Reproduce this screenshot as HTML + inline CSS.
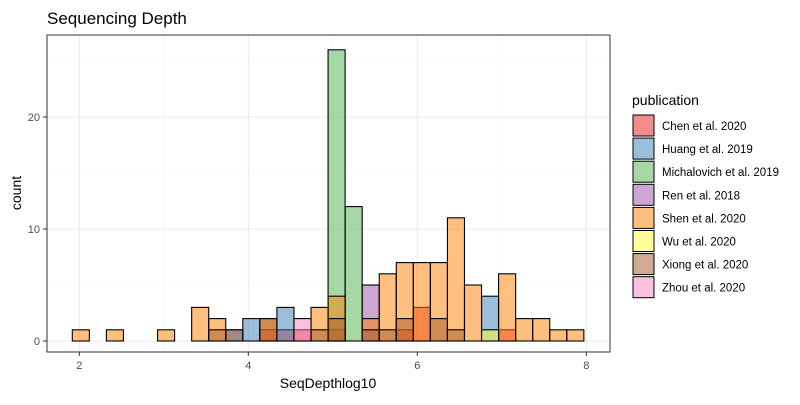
<!DOCTYPE html>
<html><head><meta charset="utf-8"><style>
body{margin:0;background:#fff;font-family:"Liberation Sans",Arial,sans-serif}
svg text{font-family:"Liberation Sans",Arial,sans-serif}
</style></head><body>
<svg id="chart" width="800" height="400" xmlns="http://www.w3.org/2000/svg">
<rect width="800" height="400" fill="#fff"/>
<text x="47" y="24" font-size="17" fill="#000">Sequencing Depth</text>
<g id="grid"></g>
<g id="bars"></g>
<rect x="47" y="35" width="563" height="317" fill="none" stroke="#333" stroke-width="1"/>
<g id="axes"></g>
<text x="328" y="388" font-size="14" text-anchor="middle" fill="#000">SeqDepthlog10</text>
<text transform="translate(21,193) rotate(-90)" font-size="14" text-anchor="middle" fill="#000">count</text>
<g id="legend"></g>
</svg>
<script>
const publications = ["Chen et al. 2020","Huang et al. 2019","Michalovich et al. 2019","Ren et al. 2018","Shen et al. 2020","Wu et al. 2020","Xiong et al. 2020","Zhou et al. 2020"];
const colors = ["#E41A1C","#377EB8","#4DAF4A","#984EA3","#FF7F00","#FFFF33","#A65628","#F781BF"];
const binStart = 1.917;
const binWidth = 0.2018;
// counts per bin (30 bins) per publication
const chenCounts =  [0,0,0,0,0,0,0,0,0,0,0,1,1,1,0,1,0,0,0,1,3,0,0,0,0,1,0,0,0,0];
const huangCounts = [0,0,0,0,0,0,0,0,0,1,2,0,3,0,0,0,0,0,0,0,0,0,0,0,4,0,0,0,0,0];
const michCounts =  [0,0,0,0,0,0,0,0,0,0,0,0,0,0,0,26,12,0,0,0,0,0,0,0,0,0,0,0,0,0];
const renCounts =   [0,0,0,0,0,0,0,0,0,0,0,0,0,0,0,0,0,5,0,0,0,0,0,0,0,0,0,0,0,0];
const shenCounts =  [1,0,1,0,0,1,0,3,2,0,0,2,0,0,3,4,0,2,6,7,7,7,11,5,0,6,2,2,1,1];
const wuCounts =    [0,0,0,0,0,0,0,0,0,0,0,0,0,0,0,0,0,0,0,0,0,0,0,0,1,0,0,0,0,0];
const xiongCounts = [0,0,0,0,0,0,0,0,1,1,0,2,0,0,1,2,0,1,1,2,0,2,1,0,0,0,0,0,0,0];
const zhouCounts =  [0,0,0,0,0,0,0,0,0,0,0,0,0,2,0,0,0,0,0,0,0,0,0,0,0,0,0,0,0,0];
const series = [chenCounts,huangCounts,michCounts,renCounts,shenCounts,wuCounts,xiongCounts,zhouCounts];
const xTicks = [2,4,6,8];
const yTicks = [0,10,20];

const NS="http://www.w3.org/2000/svg";
const X = v => 79.3 + (v-2)*84.5;
const Y = c => 341 - c*11.2;
function mk(tag, attrs, parent){const e=document.createElementNS(NS,tag);for(const k in attrs)e.setAttribute(k,attrs[k]);parent.appendChild(e);return e;}
const grid=document.getElementById('grid'), bars=document.getElementById('bars'), axes=document.getElementById('axes'), legend=document.getElementById('legend');
mk('rect',{x:47,y:35,width:563,height:317,fill:'#fff'},grid);
for(let v=1;v<=9;v+=2){const x=X(v);if(x>47&&x<610){const l=mk('line',{x1:x,x2:x,y1:35,y2:352,stroke:'#f2f2f2','stroke-width':0.6},grid);}}
for(let v=-5;v<=30;v+=10){const y=Y(v);if(y>35&&y<352){const l=mk('line',{x1:47,x2:610,y1:y,y2:y,stroke:'#f2f2f2','stroke-width':0.6},grid);}}
xTicks.forEach(v=>{const x=X(v);
 const l=mk('line',{x1:x,x2:x,y1:35,y2:352,stroke:'#ebebeb','stroke-width':1.1},grid);
 const t=mk('line',{x1:x,x2:x,y1:352,y2:356,stroke:'#333'},axes);
 const tx=mk('text',{x:x,y:369,'font-size':11,'text-anchor':'middle',fill:'#4d4d4d'},axes);tx.textContent=v;});
yTicks.forEach(v=>{const y=Y(v);
 const l=mk('line',{x1:47,x2:610,y1:y,y2:y,stroke:'#ebebeb','stroke-width':1.1},grid);
 const t=mk('line',{x1:43,x2:47,y1:y,y2:y,stroke:'#333'},axes);
 const tx=mk('text',{x:40,y:y+4,'font-size':11,'text-anchor':'end',fill:'#4d4d4d'},axes);tx.textContent=v;});
series.forEach((arr,g)=>{arr.forEach((c,i)=>{if(c<=0)return;
 const x0=X(binStart+i*binWidth), x1=X(binStart+(i+1)*binWidth);
 const r=mk('rect',{x:x0,y:Y(c),width:x1-x0,height:Y(0)-Y(c),fill:colors[g],'fill-opacity':0.5,stroke:'#000','stroke-width':1.1},bars);
 
 });});
const lt=mk('text',{x:632,y:105,'font-size':14,fill:'#000'},legend);lt.textContent='publication';


publications.forEach((p,g)=>{const y=115+g*23.1;
 const gg=mk('g',{},legend);
 
 
 mk('rect',{x:633,y:y,width:21,height:21,fill:colors[g],'fill-opacity':0.5,stroke:'#000','stroke-width':1},gg);
 const t=mk('text',{x:662,y:y+15,'font-size':11.5,fill:'#000'},gg);t.textContent=p;});
</script>
</body></html>
